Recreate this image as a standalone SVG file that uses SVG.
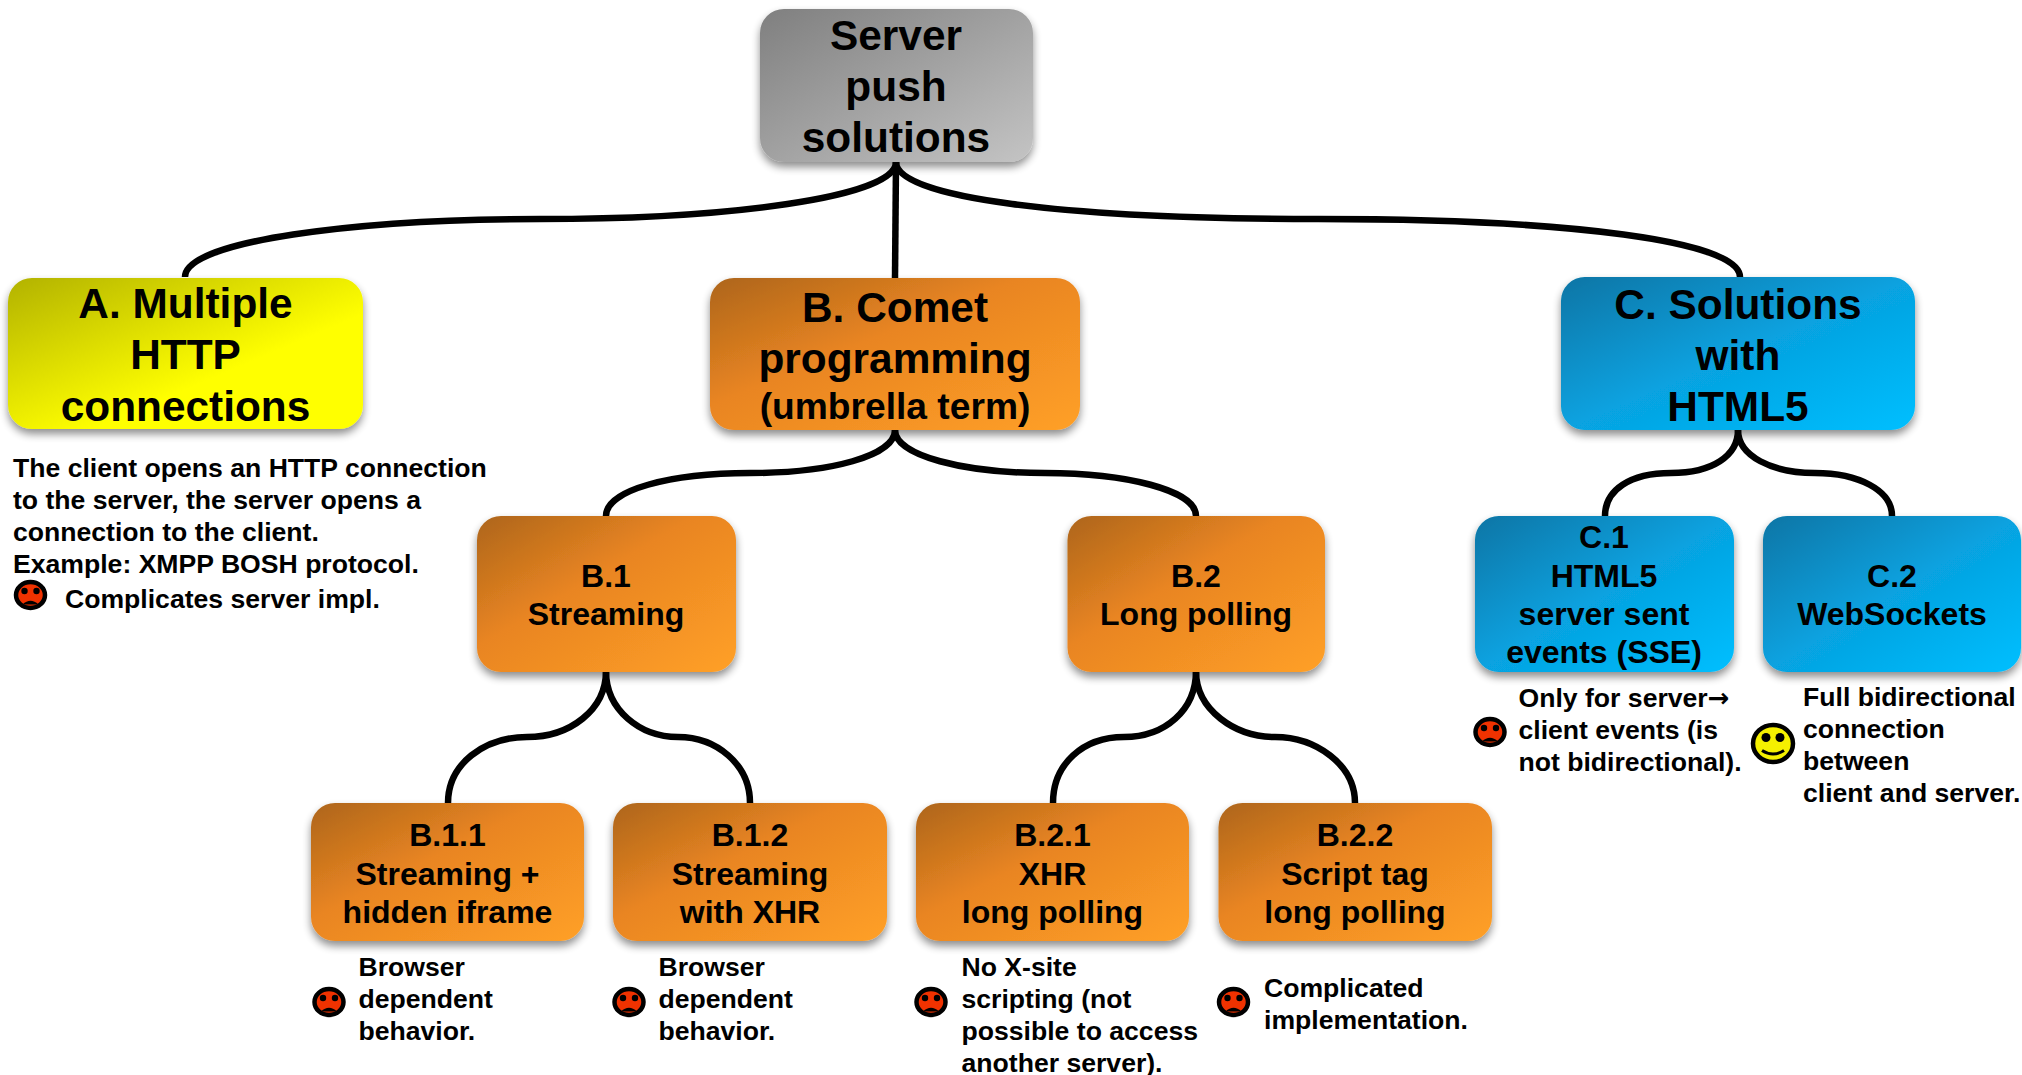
<svg xmlns="http://www.w3.org/2000/svg" width="2022" height="1075" viewBox="0 0 2022 1075">
<style>
text{font-family:"Liberation Sans",Arial,sans-serif;font-weight:bold;fill:#000}
.c{text-anchor:middle}
.t42{font-size:42.4px}.t37{font-size:37.2px}.t32{font-size:32px}.n{font-size:26.6px}
.ar{font-family:"DejaVu Sans",sans-serif;font-size:26px}
.box{filter:url(#sh)}
.gr{fill:url(#gGrey)}.ye{fill:url(#gYellow)}.or{fill:url(#gOrange)}.bl{fill:url(#gBlue)}
#conn path{fill:none;stroke:#000;stroke-width:6.5}
</style>
<defs>
<linearGradient id="gGrey" x1="0" y1="0" x2="1" y2="1"><stop offset="0" stop-color="#7f7f7f"/><stop offset="1" stop-color="#c4c4c4"/></linearGradient>
<linearGradient id="gYellow" x1="0" y1="0" x2="1" y2="1"><stop offset="0" stop-color="#b2b200"/><stop offset=".62" stop-color="#ffff00"/></linearGradient>
<linearGradient id="gOrange" x1="0" y1="0" x2="1" y2="1"><stop offset="0" stop-color="#ad651a"/><stop offset=".42" stop-color="#e98522"/><stop offset="1" stop-color="#ffa027"/></linearGradient>
<linearGradient id="gBlue" x1="0" y1="0" x2="1" y2="1"><stop offset="0" stop-color="#0775a5"/><stop offset=".5" stop-color="#07a2e0"/><stop offset="1" stop-color="#00bfff"/></linearGradient>
<filter id="sh" x="-10%" y="-10%" width="120%" height="125%"><feGaussianBlur in="SourceAlpha" stdDeviation="4"/><feOffset dy="5"/><feComponentTransfer><feFuncA type="linear" slope=".45"/></feComponentTransfer><feMerge><feMergeNode/><feMergeNode in="SourceGraphic"/></feMerge></filter>
<g id="sad"><ellipse rx="14.500" ry="13" fill="#f03200" stroke="#000" stroke-width="4.500"/><circle cx="-6" cy="-4" r="3.200" fill="#000"/><circle cx="6" cy="-4" r="3.200" fill="#000"/><path d="M-8 9.500Q0 2 8 9.500Z" fill="#000"/></g>
<g id="happy"><ellipse rx="20" ry="18.500" fill="#f5f000" stroke="#000" stroke-width="4.500"/><circle cx="-7" cy="-6" r="4.500" fill="#000"/><circle cx="7" cy="-6" r="4.500" fill="#000"/><path d="M-11 7Q0 14 11 7" fill="none" stroke="#000" stroke-width="3"/></g>
</defs>
<g id="conn">
<path d="M896 162C896 198 725 219 540 219C355 219 185 241 185 277"/>
<path d="M896 162L895 278"/>
<path d="M896 162C896 198 1065 219 1318 219C1570 219 1740 241 1740 277"/>
<path d="M895 430C895 456 830 473 750 473C670 473 606 490 606 516"/>
<path d="M895 430C895 456 965 473 1045 473C1125 473 1196 490 1196 516"/>
<path d="M606 671C606 710 570 737 527 737C484 737 448 764 448 803"/>
<path d="M606 671C606 710 640 737 678 737C716 737 750 764 750 803"/>
<path d="M1196 671C1196 710 1165 737 1124 737C1083 737 1053 764 1053 803"/>
<path d="M1196 671C1196 710 1235 737 1275 737C1315 737 1355 764 1355 803"/>
<path d="M1738 430C1738 456 1712 473 1671 473C1630 473 1605 490 1605 516"/>
<path d="M1738 430C1738 456 1772 473 1815 473C1858 473 1892 490 1892 516"/>
</g>
<g id="root"><rect class="box gr" x="760" y="9" width="273" height="153" rx="24"/><text class="c t42" x="896" y="50">Server</text><text class="c t42" x="896" y="101">push</text><text class="c t42" x="896" y="152">solutions</text></g>
<g id="nodeA"><rect class="box ye" x="8" y="278" width="355" height="151" rx="24"/><text class="c t42" x="185.500" y="318">A. Multiple</text><text class="c t42" x="185.500" y="369">HTTP</text><text class="c t42" x="185.500" y="421">connections</text></g>
<g id="nodeB"><rect class="box or" x="710" y="278" width="370" height="152" rx="24"/><text class="c t42" x="895" y="322">B. Comet</text><text class="c t42" x="895" y="373">programming</text><text class="c t37" x="895" y="419">(umbrella term)</text></g>
<g id="nodeC"><rect class="box bl" x="1561" y="277" width="354" height="153" rx="24"/><text class="c t42" x="1738" y="319">C. Solutions</text><text class="c t42" x="1738" y="370">with</text><text class="c t42" x="1738" y="421">HTML5</text></g>
<g id="nodeB1"><rect class="box or" x="477" y="516" width="259" height="156" rx="24"/><text class="c t32" x="606" y="587">B.1</text><text class="c t32" x="606" y="625">Streaming</text></g>
<g id="nodeB2"><rect class="box or" x="1067.500" y="516" width="257.500" height="156" rx="24"/><text class="c t32" x="1196" y="587">B.2</text><text class="c t32" x="1196" y="625">Long polling</text></g>
<g id="nodeC1"><rect class="box bl" x="1475" y="516" width="259" height="156" rx="24"/><text class="c t32" x="1604" y="548">C.1</text><text class="c t32" x="1604" y="587">HTML5</text><text class="c t32" x="1604" y="625">server sent</text><text class="c t32" x="1604" y="663">events (SSE)</text></g>
<g id="nodeC2"><rect class="box bl" x="1763" y="516" width="258" height="156" rx="24"/><text class="c t32" x="1892" y="587">C.2</text><text class="c t32" x="1892" y="625">WebSockets</text></g>
<g id="nodeB11"><rect class="box or" x="311" y="803" width="273" height="138" rx="24"/><text class="c t32" x="447.500" y="846">B.1.1</text><text class="c t32" x="447.500" y="885">Streaming +</text><text class="c t32" x="447.500" y="923">hidden iframe</text></g>
<g id="nodeB12"><rect class="box or" x="613" y="803" width="274" height="138" rx="24"/><text class="c t32" x="750" y="846">B.1.2</text><text class="c t32" x="750" y="885">Streaming</text><text class="c t32" x="750" y="923">with XHR</text></g>
<g id="nodeB21"><rect class="box or" x="916" y="803" width="273" height="138" rx="24"/><text class="c t32" x="1052.500" y="846">B.2.1</text><text class="c t32" x="1052.500" y="885">XHR</text><text class="c t32" x="1052.500" y="923">long polling</text></g>
<g id="nodeB22"><rect class="box or" x="1218.500" y="803" width="273.500" height="138" rx="24"/><text class="c t32" x="1355" y="846">B.2.2</text><text class="c t32" x="1355" y="885">Script tag</text><text class="c t32" x="1355" y="923">long polling</text></g>
<g id="noteA"><text class="n" x="13" y="477">The client opens an HTTP connection</text><text class="n" x="13" y="509">to the server, the server opens a</text><text class="n" x="13" y="541">connection to the client.</text><text class="n" x="13" y="573">Example: XMPP BOSH protocol.</text><use href="#sad" x="30.500" y="595"/><text class="n" x="65" y="608">Complicates server impl.</text></g>
<g id="noteB11"><use href="#sad" x="329" y="1002"/><text class="n" x="358.500" y="976">Browser</text><text class="n" x="358.500" y="1008">dependent</text><text class="n" x="358.500" y="1040">behavior.</text></g>
<g id="noteB12"><use href="#sad" x="629" y="1002"/><text class="n" x="658.500" y="976">Browser</text><text class="n" x="658.500" y="1008">dependent</text><text class="n" x="658.500" y="1040">behavior.</text></g>
<g id="noteB21"><use href="#sad" x="931" y="1002"/><text class="n" x="961.500" y="976">No X-site</text><text class="n" x="961.500" y="1008">scripting (not</text><text class="n" x="961.500" y="1040">possible to access</text><text class="n" x="961.500" y="1072">another server).</text></g>
<g id="noteB22"><use href="#sad" x="1233.500" y="1002"/><text class="n" x="1264" y="997">Complicated</text><text class="n" x="1264" y="1029">implementation.</text></g>
<g id="noteC1"><use href="#sad" x="1490" y="732"/><text class="n" x="1518.500" y="707">Only for server<tspan class="ar">→</tspan></text><text class="n" x="1518.500" y="739">client events (is</text><text class="n" x="1518.500" y="771">not bidirectional).</text></g>
<g id="noteC2"><use href="#happy" x="1773" y="743.500"/><text class="n" x="1803" y="706">Full bidirectional</text><text class="n" x="1803" y="738">connection</text><text class="n" x="1803" y="770">between</text><text class="n" x="1803" y="802">client and server.</text></g>
</svg>
